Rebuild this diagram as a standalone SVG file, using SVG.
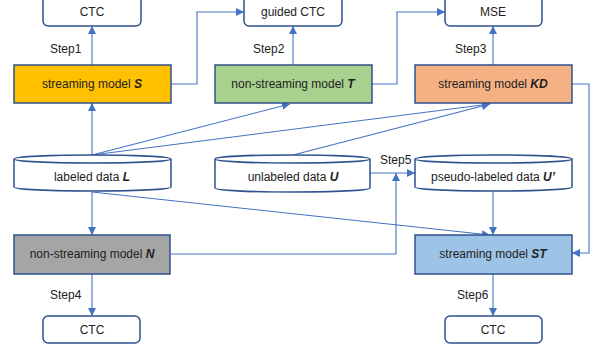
<svg xmlns="http://www.w3.org/2000/svg" width="601" height="348" viewBox="0 0 601 348">
<style>
text{font-family:"Liberation Sans",Arial,sans-serif;font-size:12px;fill:#222;text-anchor:middle;dominant-baseline:central}
.lbl{text-anchor:start;dominant-baseline:auto}
.term{fill:#fff;stroke:#2F528F;stroke-width:1.5}
.box{stroke:#2F528F;stroke-width:1.5}
.cyl{fill:#fff;stroke:#2F528F;stroke-width:1.5}
.c{fill:none;stroke:#4472C4;stroke-width:1.1}
.b{font-weight:bold;font-style:italic}
</style>
<defs>
<marker id="ah" viewBox="0 0 10 10" refX="10" refY="5" markerWidth="8" markerHeight="8" markerUnits="userSpaceOnUse" orient="auto">
<path d="M0,0 L10,5 L0,10 Z" fill="#4472C4"/>
</marker>
</defs>
<g id="connectors">
<path class="c" d="M92,65 V26" marker-end="url(#ah)"/>
<path class="c" d="M293,65 V26" marker-end="url(#ah)"/>
<path class="c" d="M493,65 V26" marker-end="url(#ah)"/>
<path class="c" d="M171,84 H197 V12 H244" marker-end="url(#ah)"/>
<path class="c" d="M372,84 H397 V12 H445" marker-end="url(#ah)"/>
<path class="c" d="M572,84 H589 V253 H572" marker-end="url(#ah)"/>
<path class="c" d="M92,155 V103" marker-end="url(#ah)"/>
<path class="c" d="M92,155 L290,104" marker-end="url(#ah)"/>
<path class="c" d="M92,155 L490,104" marker-end="url(#ah)"/>
<path class="c" d="M293,155 L490,104" marker-end="url(#ah)"/>
<path class="c" d="M92,192 V235" marker-end="url(#ah)"/>
<path class="c" d="M92,192 L490,235" marker-end="url(#ah)"/>
<path class="c" d="M370,173 H415" marker-end="url(#ah)"/>
<path class="c" d="M171,254 H396 V173" marker-end="url(#ah)"/>
<path class="c" d="M493,192 V235" marker-end="url(#ah)"/>
<path class="c" d="M493,274 V316" marker-end="url(#ah)"/>
<path class="c" d="M92,274 V316" marker-end="url(#ah)"/>
<text class="lbl" x="50" y="53">Step1</text>
<text class="lbl" x="253" y="53">Step2</text>
<text class="lbl" x="455" y="53">Step3</text>
<text class="lbl" x="50" y="299">Step4</text>
<text class="lbl" x="380" y="164">Step5</text>
<text class="lbl" x="457" y="299">Step6</text>
</g>
<g id="ctc1"><rect class="term" x="43" y="-4" width="98" height="30" rx="5"/><text x="92" y="12">CTC</text></g>
<g id="gctc"><rect class="term" x="244" y="-4" width="98" height="30" rx="5"/><text x="293" y="12">guided CTC</text></g>
<g id="mse"><rect class="term" x="445" y="-4" width="97" height="30" rx="5"/><text x="493" y="12">MSE</text></g>
<g id="S"><rect class="box" x="14" y="65" width="157" height="38" fill="#FFC000"/><text x="92" y="84">streaming model <tspan class="b">S</tspan></text></g>
<g id="T"><rect class="box" x="215" y="65" width="157" height="38" fill="#A9D18E"/><text x="293" y="84">non-streaming model <tspan class="b">T</tspan></text></g>
<g id="KD"><rect class="box" x="415" y="65" width="157" height="38" fill="#F4B183"/><text x="493" y="84">streaming model <tspan class="b">KD</tspan></text></g>
<g id="L"><path class="cyl" d="M14,159 A78.5,4 0 0,1 171,159 V187 A78.5,4 0 0,1 14,187 Z M14,159 A78.5,4 0 0,0 171,159"/><text x="92" y="177">labeled data <tspan class="b">L</tspan></text></g>
<g id="U"><path class="cyl" d="M215,159 A77.5,4 0 0,1 370,159 V188 A77.5,4 0 0,1 215,188 Z M215,159 A77.5,4 0 0,0 370,159"/><text x="293" y="177">unlabeled data <tspan class="b">U</tspan></text></g>
<g id="Up"><path class="cyl" d="M415,159 A78.5,4 0 0,1 572,159 V187 A78.5,4 0 0,1 415,187 Z M415,159 A78.5,4 0 0,0 572,159"/><text x="493" y="177">pseudo-labeled data <tspan class="b">U’</tspan></text></g>
<g id="N"><rect class="box" x="14" y="235" width="156" height="39" fill="#A5A5A5"/><text x="92" y="254">non-streaming model <tspan class="b">N</tspan></text></g>
<g id="ST"><rect class="box" x="415" y="235" width="157" height="39" fill="#9DC3E6"/><text x="493" y="254">streaming model <tspan class="b">ST</tspan></text></g>
<g id="ctc4"><rect class="term" x="43" y="316" width="97" height="27" rx="5"/><text x="92" y="330">CTC</text></g>
<g id="ctc6"><rect class="term" x="445" y="316" width="97" height="27" rx="5"/><text x="493" y="330">CTC</text></g>
</svg>
